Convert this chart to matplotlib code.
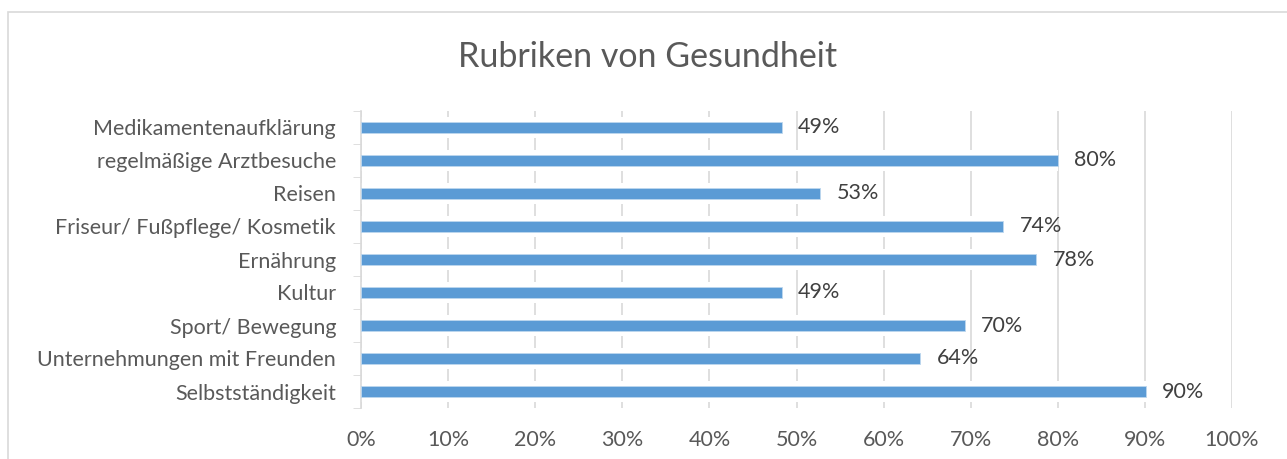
import matplotlib.pyplot as plt
import numpy as np
from matplotlib.patches import Rectangle

plt.rcParams['font.family'] = ['Lato', 'DejaVu Sans']

categories = ['Medikamentenaufklärung', 'regelmäßige Arztbesuche', 'Reisen',
              'Friseur/ Fußpflege/ Kosmetik', 'Ernährung', 'Kultur',
              'Sport/ Bewegung', 'Unternehmungen mit Freunden', 'Selbstständigkeit']
values = [48.3, 80.0, 52.7, 73.7, 77.5, 48.3, 69.3, 64.2, 90.1]
labels = ['49%', '80%', '53%', '74%', '78%', '49%', '70%', '64%', '90%']
xticks = [0, 10, 20, 30, 40, 50, 60, 70, 80, 90, 100]

W, H = 1287, 459
fig = plt.figure(figsize=(W / 100, H / 100), dpi=100)
fig.patches.append(Rectangle((8 / W, -0.1), 1.2, 1 - 12 / H + 0.1, transform=fig.transFigure,
                             fill=False, edgecolor='#d9d9d9', linewidth=1.2))

ax = fig.add_axes([361 / W, 1 - 408 / H, (1232 - 361) / W, (408 - 111) / H])
y = np.arange(len(categories))

# white halo behind the bars, so gridlines are cut around them
ax.barh(y, values, height=0.62, color='white', zorder=2)
ax.barh(y, values, height=0.36, color='#5b9bd5', edgecolor='#bdd7ee', linewidth=0.6, zorder=3)

for yi, v, t in zip(y, values, labels):
    ax.text(v + 1.9, yi, t, va='center', ha='left', fontsize=15.5, color='#404040', zorder=4)

ax.set_xlim(0, 100)
ax.set_ylim(len(categories) - 0.5, -0.5)
ax.set_xticks(xticks)
ax.set_xticklabels([f'{t}%' for t in xticks], fontsize=15.5, color='#595959')
ax.set_yticks(y)
ax.set_yticklabels(categories, fontsize=15.5, color='#595959')
ax.set_yticks(np.arange(len(categories) + 1) - 0.5, minor=True)
ax.tick_params(axis='y', which='major', length=0, pad=18)
ax.tick_params(axis='y', which='minor', length=6, color='#d9d9d9', direction='out')
ax.tick_params(axis='x', length=0, pad=16)
ax.grid(axis='x', color='#d9d9d9', linewidth=1.2, zorder=1)
ax.set_axisbelow(True)
for s in ['top', 'right', 'bottom']:
    ax.spines[s].set_visible(False)
ax.spines['left'].set_color('#d9d9d9')
ax.spines['left'].set_linewidth(1.2)

fig.text(648 / W, 1 - 57 / H, 'Rubriken von Gesundheit', ha='center', va='center',
         fontsize=24.5, color='#595959')

fig.savefig('out.png', dpi=100)
